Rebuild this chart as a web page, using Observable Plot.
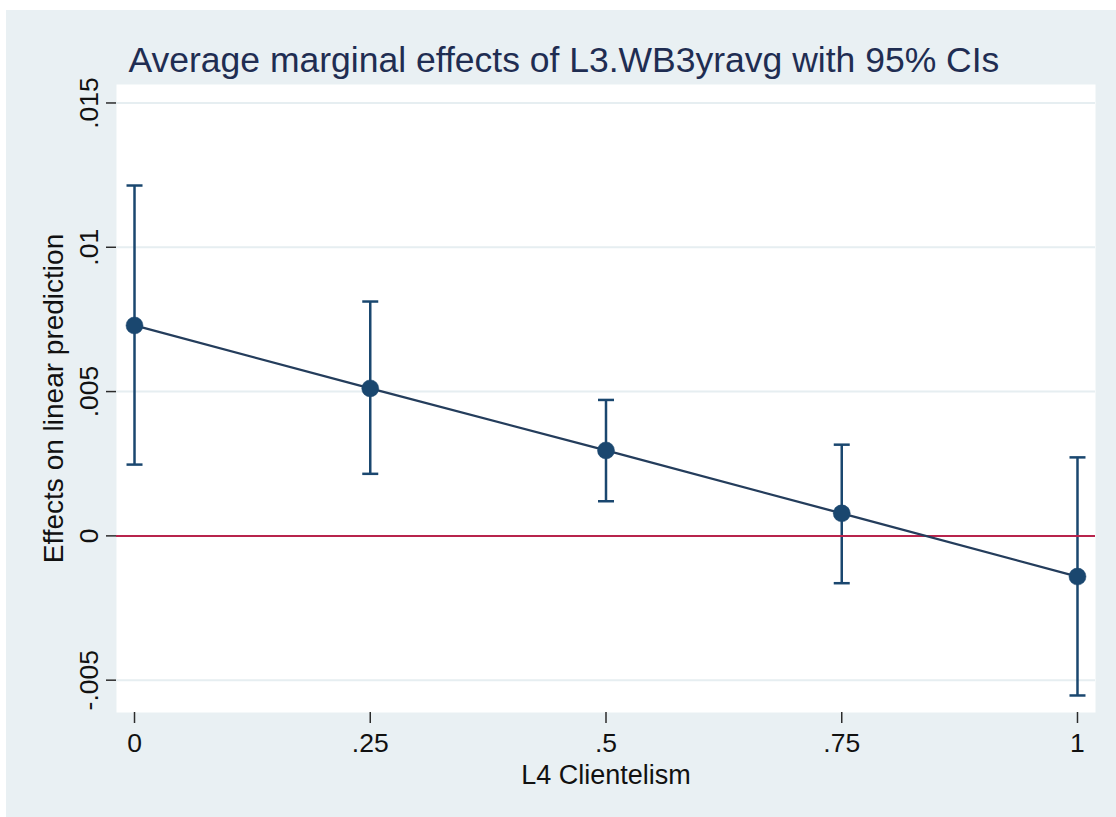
<!DOCTYPE html>
<html>
<head>
<meta charset="utf-8">
<script src="https://cdn.jsdelivr.net/npm/d3@7"></script>
<script src="https://cdn.jsdelivr.net/npm/@observablehq/plot@0.6"></script>
<style>
  html, body { margin: 0; padding: 0; background: #ffffff; }
  #wrap { position: relative; width: 1116px; height: 817px; overflow: hidden; }
  #bg { position: absolute; left: 6px; top: 10px; width: 1110px; height: 807px; background: #e9f0f3; }
  #chart { position: absolute; left: 0; top: 0; }
</style>
</head>
<body>
<div id="wrap"><div id="bg"></div><div id="chart"></div></div>
<script>
// ---- data ----
const titleText = "Average marginal effects of L3.WB3yravg with 95% CIs";
const xLabelText = "L4 Clientelism";
const yLabelText = "Effects on linear prediction";
const clientelism = [0, 0.25, 0.5, 0.75, 1];
const effect = [0.00729, 0.00511, 0.00296, 0.00078, -0.00141];
const ciLow = [0.00247, 0.00215, 0.00120, -0.00164, -0.00553];
const ciHigh = [0.01214, 0.00812, 0.00471, 0.00316, 0.00272];
const xTicks = [0, 0.25, 0.5, 0.75, 1];
const xTickLabels = ["0", ".25", ".5", ".75", "1"];
const yTicks = [-0.005, 0, 0.005, 0.01, 0.015];
const yTickLabels = ["-.005", "0", ".005", ".01", ".015"];
const refLine = [0];

const rows = clientelism.map((x, i) => ({x, y: effect[i], lo: ciLow[i], hi: ciHigh[i]}));

const navy = "#1a476f";
const lineCol = "#243d5c";
const red = "#b8244c";
const axisCol = "#2b2b2b";

const capSymbol = {
  draw(context, size) {
    const r = Math.sqrt(size / Math.PI);
    context.moveTo(-r, 0);
    context.lineTo(r, 0);
  }
};

const chart = Plot.plot({
  width: 1116,
  height: 817,
  marginLeft: 116,
  marginRight: 21,
  marginTop: 84,
  marginBottom: 105,
  style: {background: "transparent", fontFamily: "'Liberation Sans', Arial, Helvetica, sans-serif", color: "#111"},
  x: {domain: [-0.0191, 1.0191], label: null},
  y: {domain: [-0.00612, 0.01564], label: null},
  marks: [
    Plot.frame({fill: "white", stroke: "none"}),
    Plot.gridY(yTicks, {stroke: "#e6eef1", strokeOpacity: 1, strokeWidth: 2}),
    Plot.axisX({ticks: xTicks, tickSize: 11, tickPadding: 10, fontSize: 26.5, stroke: axisCol, strokeWidth: 1.5,
      line: true, label: null, tickFormat: d => xTickLabels[xTicks.indexOf(d)]}),
    Plot.axisY({ticks: yTicks, tickSize: 10, stroke: axisCol, strokeWidth: 1.5, line: true, label: null,
      tickFormat: () => ""}),
    Plot.text(yTicks, {y: d => d, frameAnchor: "left", dx: -19, rotate: -90, textAnchor: "middle",
      lineAnchor: "bottom", fontSize: 26.5, fill: "#111", text: d => yTickLabels[yTicks.indexOf(d)]}),
    Plot.ruleX(rows, {x: "x", y1: "lo", y2: "hi", stroke: navy, strokeWidth: 2.5}),
    Plot.dot(rows, {x: "x", y: "lo", symbol: capSymbol, r: 8, stroke: navy, fill: "none", strokeWidth: 2.5}),
    Plot.dot(rows, {x: "x", y: "hi", symbol: capSymbol, r: 8, stroke: navy, fill: "none", strokeWidth: 2.5}),
    Plot.ruleY(refLine, {stroke: red, strokeWidth: 2}),
    Plot.line(rows, {x: "x", y: "y", stroke: lineCol, strokeWidth: 2.3}),
    Plot.dot(rows, {x: "x", y: "y", r: 8.5, fill: navy, stroke: navy, strokeWidth: 0.5}),
    Plot.text([titleText], {frameAnchor: "top-left", dx: 12, dy: -13, lineAnchor: "bottom", textAnchor: "start",
      fontSize: 35.5, fill: "#1f2d52", text: d => d}),
    Plot.text([xLabelText], {frameAnchor: "bottom", dy: 71, lineAnchor: "bottom", textAnchor: "middle",
      fontSize: 27, fill: "#111", text: d => d}),
    Plot.text([yLabelText], {frameAnchor: "left", dx: -54, rotate: -90, lineAnchor: "bottom", textAnchor: "middle",
      fontSize: 28, fill: "#111", text: d => d})
  ]
});
document.getElementById("chart").appendChild(chart);
</script>
</body>
</html>
